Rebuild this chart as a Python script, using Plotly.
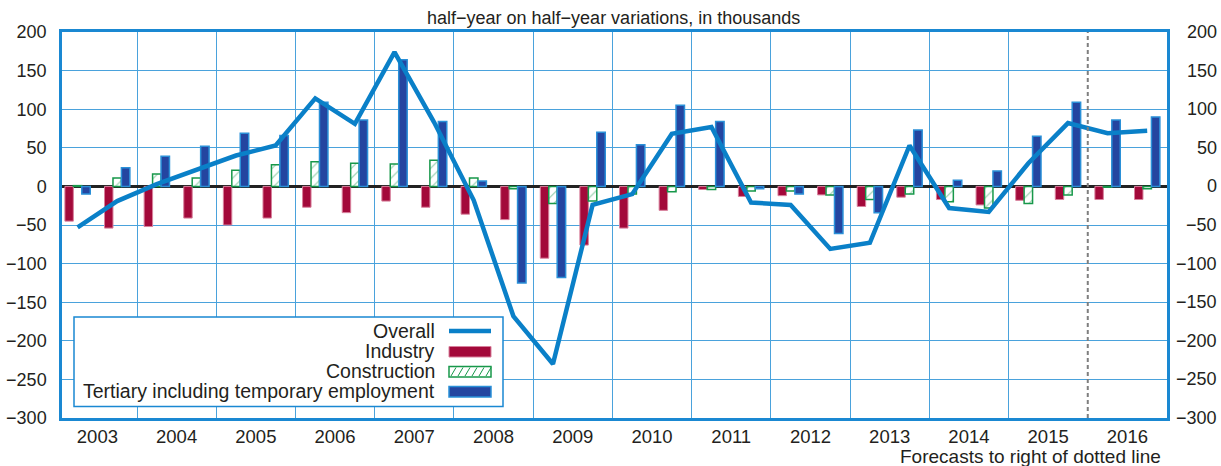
import plotly.graph_objects as go

# ---------------- data ----------------
years = list(range(2003, 2017))
year_labels = [str(y) for y in years]

# half-year values (H1, H2 for each year), thousands
industry = [-45, -54, -52, -41, -50, -41, -27, -34, -19, -27, -36, -43, -93, -76,
            -54, -31, -4, -13, -12, -11, -26, -14, -17, -24, -18, -17, -17, -17]
construction = [1, 11, 16, 11, 21, 28, 32, 30, 29, 34, 11, -3, -22, -19,
                -10, -7, -4, -6, -6, -11, -17, -10, -20, -28, -22, -11, -1, -3]
tertiary = [-10, 24, 39, 52, 69, 66, 109, 86, 164, 84, 7, -125, -118, 70,
            54, 105, 84, -3, -10, -61, -34, 73, 8, 20, 65, 109, 86, 90]
overall = [-53, -19, 3, 22, 40, 53, 114, 81, 174, 83, -18, -168, -230, -24,
           -10, 68, 77, -21, -24, -81, -73, 53, -28, -33, 30, 82, 69, 72]

y_ticks = list(range(-300, 201, 50))

series_names = ["Overall", "Industry", "Construction",
                "Tertiary including temporary employment"]
subtitle = "half\u2212year on half\u2212year variations, in thousands"
footnote = "Forecasts to right of dotted line"

# ---------------- style ----------------
FONT = "Liberation Sans, Arial, Helvetica, sans-serif"
TXT = "#231f20"
C_LINE = "#0a80c8"
C_IND = "#a3093a"
C_IND_EDGE = "#d8809c"
C_CON = "#17984a"
C_TER = "#2445a0"
C_TER_EDGE = "#2a90d8"
C_GRID = "#4aa2dc"
C_FRAME = "#1a88d2"

W, H = 1221, 466
ML, MR, MT, MB = 62, 54, 32, 48
PW, PH = W - ML - MR, H - MT - MB


def px(x):
    return (x - ML) / PW


def py(y):
    return (H - MB - y) / PH


# x positions: each year spans one unit, half-years at quarter points
xpos = [k + 0.25 + 0.5 * h for k in range(len(years)) for h in (0, 1)]
year_centers = [k + 0.5 for k in range(len(years))]

fig = go.Figure()
fig.add_trace(go.Bar(x=xpos, y=industry, name=series_names[1],
                     marker=dict(color=C_IND, line=dict(color=C_IND_EDGE, width=1))))
fig.add_trace(go.Bar(x=xpos, y=construction, name=series_names[2],
                     marker=dict(color="white", line=dict(color=C_CON, width=1.5),
                                 pattern=dict(shape="/", fgcolor=C_CON, bgcolor="white",
                                              size=7, solidity=0.15))))
fig.add_trace(go.Bar(x=xpos, y=tertiary, name=series_names[3],
                     marker=dict(color=C_TER, line=dict(color=C_TER_EDGE, width=1.5))))
fig.add_trace(go.Scatter(x=xpos, y=overall, name=series_names[0], mode="lines",
                         line=dict(color=C_LINE, width=4.5)))

fig.update_layout(
    width=W, height=H,
    margin=dict(l=ML, r=MR, t=MT, b=MB, pad=0, autoexpand=False),
    paper_bgcolor="white", plot_bgcolor="white",
    barmode="group", bargap=0.36, bargroupgap=0,
    showlegend=False,
    font=dict(family=FONT, color=TXT, size=18),
)

fig.update_xaxes(
    range=[0.0534, 14], tickmode="array", tickvals=year_centers, ticktext=year_labels,
    showgrid=False, ticks="", tickfont=dict(size=18.5, color=TXT),
    ticklabelstandoff=0, automargin=False,
    minor=dict(tickmode="array", tickvals=list(range(1, 13)), showgrid=True,
               gridcolor=C_GRID, gridwidth=1.3, ticks=""),
    showline=True, mirror=True, linecolor=C_FRAME, linewidth=2.5, zeroline=False,
)
fig.update_yaxes(
    range=[-300, 200], tickmode="array", tickvals=y_ticks,
    showgrid=True, gridcolor=C_GRID, gridwidth=1.3,
    zeroline=True, zerolinecolor="#222222", zerolinewidth=2.5,
    ticks="", tickfont=dict(size=18, color=TXT), ticklabelstandoff=9, automargin=False,
    showline=True, mirror=True, linecolor=C_FRAME, linewidth=2.5,
)

shapes = []
# forecast separator
shapes.append(dict(type="line", xref="x", yref="paper", x0=13, x1=13, y0=0, y1=1,
                   line=dict(color="#7f7f7f", width=2, dash="4px,3px"), layer="above"))

# custom legend box
shapes.append(dict(type="rect", xref="paper", yref="paper",
                   x0=px(74), x1=px(503), y0=py(406.5), y1=py(317),
                   fillcolor="white", line=dict(color=C_FRAME, width=1.5), layer="above"))
sx0, sx1 = px(449), px(491)
shapes.append(dict(type="line", xref="paper", yref="paper", x0=sx0, x1=sx1,
                   y0=py(331), y1=py(331), line=dict(color=C_LINE, width=4.5), layer="above"))
shapes.append(dict(type="rect", xref="paper", yref="paper", x0=sx0, x1=sx1,
                   y0=py(357), y1=py(346.5), fillcolor=C_IND,
                   line=dict(color=C_IND_EDGE, width=1), layer="above"))
shapes.append(dict(type="rect", xref="paper", yref="paper", x0=sx0, x1=sx1,
                   y0=py(377), y1=py(366.5), fillcolor="white",
                   line=dict(color=C_CON, width=1.5), layer="above"))
for i in range(6):
    hx = 451 + i * 7
    shapes.append(dict(type="line", xref="paper", yref="paper",
                       x0=px(hx), x1=px(hx + 5), y0=py(376), y1=py(367.5),
                       line=dict(color=C_CON, width=1), layer="above"))
shapes.append(dict(type="rect", xref="paper", yref="paper", x0=sx0, x1=sx1,
                   y0=py(397), y1=py(386.5), fillcolor=C_TER,
                   line=dict(color=C_TER_EDGE, width=1.5), layer="above"))
fig.update_layout(shapes=shapes)

annotations = []
for name, yy in zip(series_names, [331, 351, 371, 391]):
    annotations.append(dict(text=name, xref="paper", yref="paper", x=px(437), y=py(yy),
                            xanchor="right", yanchor="middle", showarrow=False,
                            font=dict(size=19.5, color=TXT, family=FONT)))
# right-side axis labels (right aligned, as in the original)
for v in y_ticks:
    annotations.append(dict(text=(f"\u2212{abs(v)}" if v < 0 else str(v)),
                            xref="paper", yref="y", x=px(1219), y=v,
                            xanchor="right", yanchor="middle", showarrow=False,
                            font=dict(size=18, color=TXT, family=FONT)))
annotations.append(dict(text=subtitle, xref="paper", yref="paper", x=px(613.5), y=py(18),
                        xanchor="center", yanchor="middle", showarrow=False,
                        font=dict(size=18, color=TXT, family=FONT)))
annotations.append(dict(text=footnote, xref="paper", yref="paper", x=px(1163), y=py(456.5),
                        xanchor="right", yanchor="middle", showarrow=False,
                        font=dict(size=19, color=TXT, family=FONT)))
fig.update_layout(annotations=annotations)

fig.write_html("out.html", config={"displayModeBar": False},
               post_script="document.body.style.margin='0';document.body.style.overflow='hidden';")
